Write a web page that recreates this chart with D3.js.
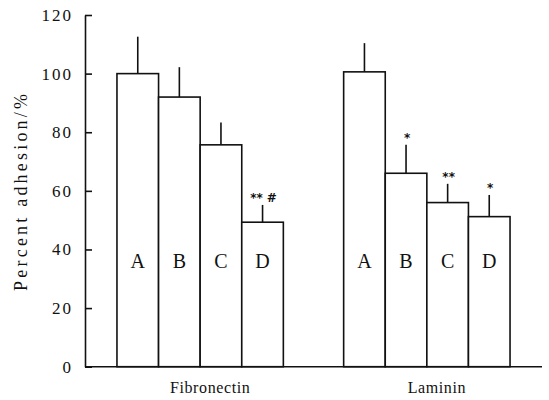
<!DOCTYPE html>
<meta charset="utf-8">
<script src="https://d3js.org/d3.v7.min.js"></script>
<style>
body { margin: 0; background: #fff; }
text { font-family: "Liberation Serif", "DejaVu Serif", serif; fill: #111; }
</style>
<div id="chart"></div>
<script>
// data
var groups = ["Fibronectin", "Laminin"];
var conditions = ["A", "B", "C", "D"];
var fibronectinMean = [100, 92, 75.7, 49.3];
var fibronectinSD = [12.6, 10.2, 7.6, 5.9];
var fibronectinMark = ["", "", "", "** #"];
var lamininMean = [100.6, 66, 56, 51.2];
var lamininSD = [9.8, 9.7, 6.4, 7.4];
var lamininMark = ["", "*", "**", "*"];
var yTicks = [0, 20, 40, 60, 80, 100, 120];

var width = 549, height = 400;
var plotLeft = 85, plotRight = 542, plotTop = 15, plotBottom = 366.7;

var rows = [];
conditions.forEach(function(c, i) {
  rows.push({group: groups[0], cond: c, mean: fibronectinMean[i], sd: fibronectinSD[i], mark: fibronectinMark[i]});
  rows.push({group: groups[1], cond: c, mean: lamininMean[i], sd: lamininSD[i], mark: lamininMark[i]});
});

var svg = d3.select("#chart").append("svg")
  .attr("width", width)
  .attr("height", height);

var y = d3.scaleLinear().domain([0, 120]).range([plotBottom, plotTop]);

var x0 = d3.scaleBand()
  .domain(groups)
  .range([plotLeft, plotRight])
  .paddingInner(0.266)
  .paddingOuter(0.141);

var x1 = d3.scaleBand()
  .domain(conditions)
  .range([0, x0.bandwidth()]);

// bars
var bar = svg.append("g").selectAll("g")
  .data(rows)
  .enter().append("g")
    .attr("transform", function(d) { return "translate(" + (x0(d.group) + x1(d.cond)) + ",0)"; });

bar.append("rect")
  .attr("x", 0)
  .attr("y", function(d) { return y(d.mean); })
  .attr("width", x1.bandwidth())
  .attr("height", function(d) { return y(0) - y(d.mean); })
  .style("fill", "#fff")
  .style("stroke", "#111")
  .style("stroke-width", 1.6);

// error bars (upper only)
bar.append("line")
  .attr("x1", x1.bandwidth() / 2)
  .attr("x2", x1.bandwidth() / 2)
  .attr("y1", function(d) { return y(d.mean); })
  .attr("y2", function(d) { return y(d.mean + d.sd); })
  .style("stroke", "#111")
  .style("stroke-width", 1.6);

// significance marks
bar.append("text")
  .attr("x", x1.bandwidth() / 2 + 1)
  .attr("y", function(d) { return y(d.mean + d.sd) - 3; })
  .attr("text-anchor", "middle")
  .style("font-size", "12px")
  .style("font-weight", "bold")
  .style("font-family", "DejaVu Sans, sans-serif")
  .text(function(d) { return d.mark; });

// condition letters
bar.append("text")
  .attr("x", x1.bandwidth() / 2)
  .attr("y", y(36) + 7)
  .attr("text-anchor", "middle")
  .style("font-size", "20px")
  .text(function(d) { return d.cond; });

// y axis
var yAxis = svg.append("g")
  .attr("transform", "translate(" + plotLeft + ",0)")
  .call(d3.axisLeft(y).tickValues(yTicks).tickSizeInner(-7).tickSizeOuter(0).tickPadding(12));
yAxis.select(".domain").style("stroke", "#111").style("stroke-width", 1.6);
yAxis.selectAll(".tick line").style("stroke", "#111").style("stroke-width", 1.6);
yAxis.selectAll(".tick text")
  .style("font-family", "Liberation Serif, serif")
  .style("font-size", "17px")
  .style("letter-spacing", "2px")
  .style("fill", "#111");

// x axis baseline
svg.append("line")
  .attr("x1", plotLeft).attr("x2", plotRight)
  .attr("y1", y(0)).attr("y2", y(0))
  .style("stroke", "#111")
  .style("stroke-width", 1.6);

// group labels
svg.append("g").selectAll("text")
  .data(groups)
  .enter().append("text")
    .attr("x", function(d) { return x0(d) + x0.bandwidth() / 2 + 10; })
    .attr("y", 393)
    .attr("text-anchor", "middle")
    .style("font-size", "16px")
    .style("letter-spacing", "0.6px")
    .text(function(d) { return d; });

// y label
svg.append("text")
  .attr("transform", "translate(27," + y(60) + ") rotate(-90)")
  .attr("text-anchor", "middle")
  .style("font-size", "18px")
  .style("letter-spacing", "3.2px")
  .text("Percent adhesion/%");
</script>
